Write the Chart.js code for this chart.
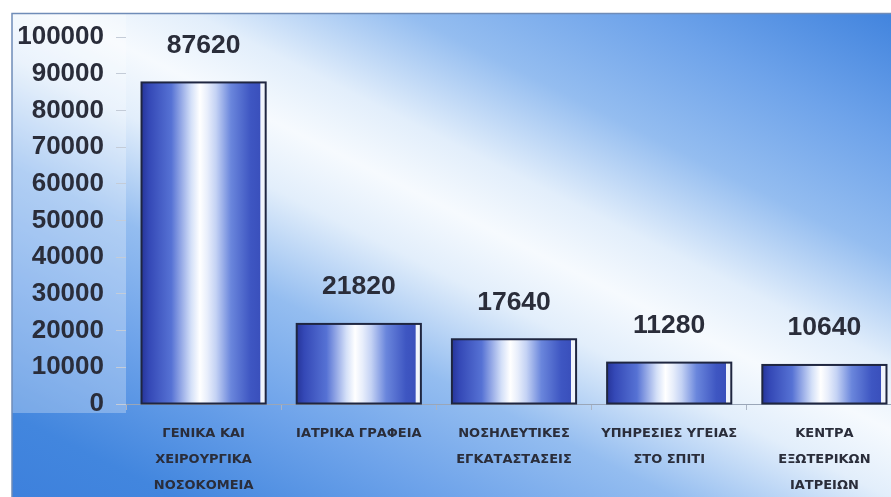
<!DOCTYPE html>
<html><head><meta charset="utf-8">
<script src="https://cdn.jsdelivr.net/npm/chart.js@4/dist/chart.umd.min.js"></script>
<style>html,body{margin:0;padding:0;overflow:hidden;background:#fff}canvas{display:block}</style>
</head><body>
<canvas id="c" width="910" height="497"></canvas>
<script>
const categories = [
  ["ΓΕΝΙΚΑ ΚΑΙ", "ΧΕΙΡΟΥΡΓΙΚΑ", "ΝΟΣΟΚΟΜΕΙΑ"],
  ["ΙΑΤΡΙΚΑ ΓΡΑΦΕΙΑ"],
  ["ΝΟΣΗΛΕΥΤΙΚΕΣ", "ΕΓΚΑΤΑΣΤΑΣΕΙΣ"],
  ["ΥΠΗΡΕΣΙΕΣ ΥΓΕΙΑΣ", "ΣΤΟ ΣΠΙΤΙ"],
  ["ΚΕΝΤΡΑ", "ΕΞΩΤΕΡΙΚΩΝ", "ΙΑΤΡΕΙΩΝ"]
];
const values = [87620, 21820, 17640, 11280, 10640];
const yTickValues = [0, 10000, 20000, 30000, 40000, 50000, 60000, 70000, 80000, 90000, 100000];

const FONT = "'Liberation Sans', Arial, sans-serif";
const XFONT = "'DejaVu Sans', 'Liberation Sans', sans-serif";
const TEXT = '#2a2d3a';

const bgPlugin = {
  id: 'bg',
  beforeDraw(chart) {
    const ctx = chart.ctx, W = chart.width, H = chart.height;
    ctx.save();
    ctx.fillStyle = '#ffffff';
    ctx.fillRect(0, 0, W, H);
    const g = ctx.createLinearGradient(244, 621, 629, -148);
    g.addColorStop(0, '#3d80dc');
    g.addColorStop(0.093, '#4286de');
    g.addColorStop(0.233, '#6ea3ea');
    g.addColorStop(0.353, '#94bdf0');
    g.addColorStop(0.465, '#e2eefb');
    g.addColorStop(0.535, '#f6fafe');
    g.addColorStop(0.605, '#e2eefb');
    g.addColorStop(0.716, '#94bdf0');
    g.addColorStop(0.837, '#6ea3ea');
    g.addColorStop(0.977, '#3f82dd');
    g.addColorStop(1, '#3a7ddc');
    ctx.fillStyle = g;
    ctx.fillRect(12, 13, W - 12, H - 13);
    // lighter panel behind y labels
    ctx.fillStyle = 'rgba(255,255,255,0.28)';
    ctx.fillRect(12, 13, chart.chartArea.left - 12, chart.chartArea.bottom + 9 - 13);
    // frame
    ctx.strokeStyle = '#6f8cb8';
    ctx.lineWidth = 1.5;
    ctx.beginPath();
    ctx.moveTo(12, H); ctx.lineTo(12, 13.5); ctx.lineTo(W, 13.5);
    ctx.stroke();
    ctx.restore();
  }
};

const barPlugin = {
  id: 'barPaint',
  afterDatasetsDraw(chart) {
    const ctx = chart.ctx;
    const meta = chart.getDatasetMeta(0);
    ctx.save();
    meta.data.forEach((el, i) => {
      const p = el.getProps(['x', 'y', 'base', 'width'], true);
      const l = p.x - p.width / 2, r = p.x + p.width / 2;
      const t = p.y, b = p.base;
      const g = ctx.createLinearGradient(l, 0, r, 0);
      g.addColorStop(0, '#26359a');
      g.addColorStop(0.06, '#3448b6');
      g.addColorStop(0.24, '#5672d4');
      g.addColorStop(0.40, '#d4e0f8');
      g.addColorStop(0.47, '#ffffff');
      g.addColorStop(0.53, '#e8eefb');
      g.addColorStop(0.60, '#c4d2f4');
      g.addColorStop(0.72, '#6a86dc');
      g.addColorStop(0.88, '#3e56c2');
      g.addColorStop(0.955, '#3a50bc');
      g.addColorStop(0.96, '#f0f4fc');
      g.addColorStop(1, '#f0f4fc');
      ctx.fillStyle = g;
      ctx.fillRect(l, t, r - l, b - t);
      ctx.strokeStyle = '#1f2640';
      ctx.lineWidth = 2;
      ctx.strokeRect(l, t, r - l, b - t);
      // data label
      ctx.fillStyle = TEXT;
      ctx.font = 'bold 26.5px ' + FONT;
      ctx.textAlign = 'center';
      ctx.textBaseline = 'middle';
      ctx.fillText(String(values[i]), p.x, t - 37);
    });
    ctx.restore();
  }
};

new Chart(document.getElementById('c'), {
  type: 'bar',
  data: {
    labels: categories,
    datasets: [{
      data: values,
      backgroundColor: 'rgba(0,0,0,0)',
      borderWidth: 0,
      barPercentage: 0.8,
      categoryPercentage: 1.0
    }]
  },
  options: {
    responsive: false,
    animation: false,
    devicePixelRatio: 1,
    layout: { padding: { top: 37, right: 8, left: 0, bottom: 0 } },
    plugins: { legend: { display: false }, tooltip: { enabled: false } },
    scales: {
      x: {
        afterFit(s) { s.height = 93; },
        grid: { display: true, drawOnChartArea: false, drawTicks: true, tickLength: 6, color: '#aab4c4', offset: true },
        border: { display: true, color: '#9aa6b8', width: 1 },
        ticks: {
          color: TEXT, padding: 10, maxRotation: 0, autoSkip: false,
          font: { family: XFONT, weight: 'bold', size: 13, lineHeight: 2.03 }
        }
      },
      y: {
        min: 0, max: 100000,
        afterFit(s) { s.width = 126; },
        afterBuildTicks(s) { s.ticks = yTickValues.map(v => ({ value: v })); },
        grid: { display: true, drawOnChartArea: false, drawTicks: true, tickLength: 10, color: '#c4ccd8' },
        border: { display: false },
        ticks: {
          color: TEXT, padding: 12,
          font: { family: FONT, weight: 'bold', size: 26 },
          callback: v => String(v)
        }
      }
    }
  },
  plugins: [bgPlugin, barPlugin]
});
</script>
</body></html>
